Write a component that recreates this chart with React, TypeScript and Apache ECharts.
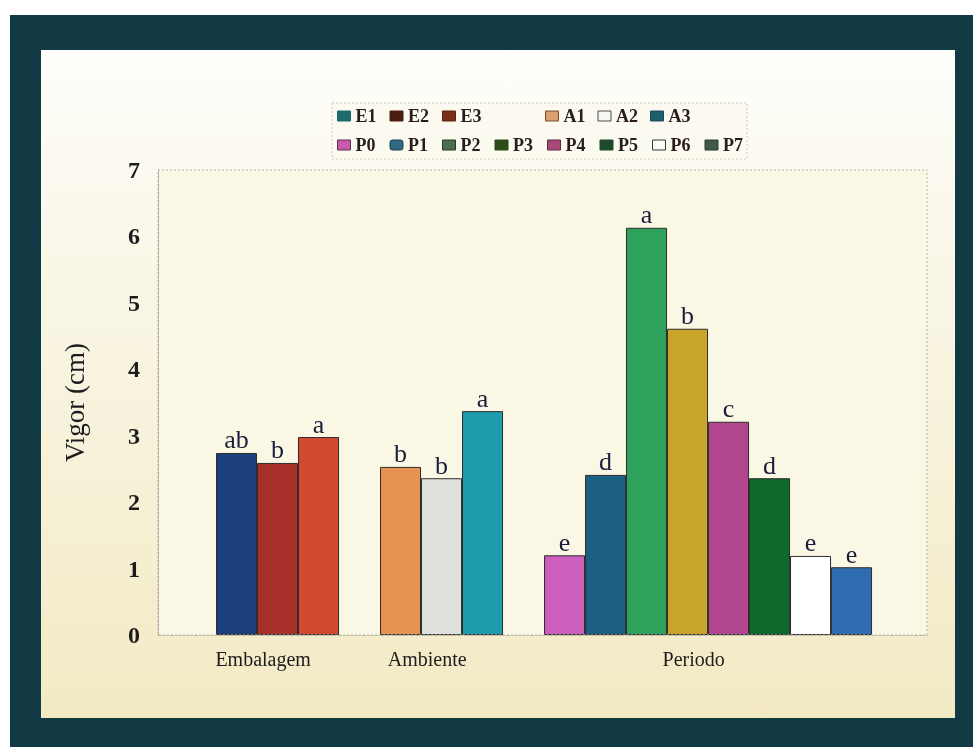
import React, { useEffect, useRef } from "react";
import * as echarts from "echarts";

// Factor groups shown along the x axis
const groupNames = ["Embalagem", "Ambiente", "Periodo"];

// Embalagem (packaging)
const embalagemNames = ["E1", "E2", "E3"];
const embalagemValues = [2.74, 2.59, 2.98];
const embalagemLetters = ["ab", "b", "a"];

// Ambiente (environment)
const ambienteNames = ["A1", "A2", "A3"];
const ambienteValues = [2.53, 2.36, 3.37];
const ambienteLetters = ["b", "b", "a"];

// Periodo (storage period)
const periodoNames = ["P0", "P1", "P2", "P3", "P4", "P5", "P6", "P7"];
const periodoValues = [1.2, 2.41, 6.13, 4.61, 3.21, 2.36, 1.19, 1.02];
const periodoLetters = ["e", "d", "a", "b", "c", "d", "e", "e"];

// Y axis
const yMin = 0;
const yMax = 7;
const yStep = 1;

// Fill colours of the bars
const barColors: Record<string, string> = {
  E1: "#1c3f7d",
  E2: "#a8302a",
  E3: "#d24a30",
  A1: "#e8924f",
  A2: "#e0e0dc",
  A3: "#1f9bae",
  P0: "#cc5fbe",
  P1: "#1b5f82",
  P2: "#2ea25c",
  P3: "#c9a52c",
  P4: "#b2468e",
  P5: "#10692c",
  P6: "#ffffff",
  P7: "#2f6cb2",
};

// Swatches used in the legend
const legendSwatches: Record<string, { color: string; border: string; icon?: string }> = {
  E1: { color: "#1e6b6d", border: "#1e6b6d" },
  E2: { color: "#4b1c12", border: "#4b1c12" },
  E3: { color: "#7a2f17", border: "#5a2010" },
  A1: { color: "#dba070", border: "#7a4a2a" },
  A2: { color: "#f6f6f2", border: "#4a4a4a" },
  A3: { color: "#1d5e6a", border: "#1d4a55" },
  P0: { color: "#c95aaa", border: "#5a3050" },
  P1: { color: "#2e6a82", border: "#1d3a4a", icon: "roundRect" },
  P2: { color: "#4e6c4e", border: "#2a3a2a" },
  P3: { color: "#2d4a18", border: "#2d4a18" },
  P4: { color: "#a8487a", border: "#5a2a45" },
  P5: { color: "#1e4a2c", border: "#1e4a2c" },
  P6: { color: "#fbfbf8", border: "#3a3a3a" },
  P7: { color: "#405a48", border: "#2a3a30" },
};

const SERIF = '"Liberation Serif", "Times New Roman", serif';

export default function App() {
  const ref = useRef<HTMLDivElement>(null);

  useEffect(() => {
    if (!ref.current) return;
    const chart = echarts.init(ref.current, null, { renderer: "svg" });

    const groups = [
      { names: embalagemNames, values: embalagemValues, letters: embalagemLetters },
      { names: ambienteNames, values: ambienteValues, letters: ambienteLetters },
      { names: periodoNames, values: periodoValues, letters: periodoLetters },
    ];

    // plot rectangle
    const gLeft = 158;
    const gTop = 170;
    const gRight = 927;
    const gBottom = 635;
    const W = 973;
    const H = 747;

    // x positions: one slot per bar, one empty slot between groups
    const xMin = -1.915;
    const xMax = 16.84;
    const barWidth = (gRight - gLeft) / (xMax - xMin);

    const series: any[] = [];
    const groupLabelPos: number[] = [];
    let slot = 0;
    groups.forEach((g) => {
      const xs: number[] = [];
      g.names.forEach((name, i) => {
        xs.push(slot);
        const letter = g.letters[i];
        series.push({
          name,
          type: "bar",
          stack: "vigor",
          barWidth,
          data: [[slot, g.values[i]]],
          itemStyle: {
            color: barColors[name],
            borderColor: "#2c2c2c",
            borderWidth: 1,
          },
          label: {
            show: true,
            position: "top",
            distance: 0,
            formatter: () => letter,
            color: "#1a1c3c",
            fontFamily: SERIF,
            fontSize: 26,
          },
        });
        slot += 1;
      });
      groupLabelPos.push(xs.reduce((a, b) => a + b, 0) / xs.length - 0.35);
      slot += 1;
    });

    const legendItem = (name: string) => {
      const s = legendSwatches[name];
      return {
        name,
        icon: s.icon || "rect",
        itemStyle: { color: s.color, borderColor: s.border, borderWidth: 1 },
      };
    };
    const legendBase = {
      orient: "horizontal",
      itemWidth: 13,
      itemHeight: 10,
      itemGap: 4,
      padding: 0,
      selectedMode: false,
      textStyle: {
        fontFamily: SERIF,
        fontWeight: "bold",
        fontSize: 18,
        color: "#2a1c1c",
        width: 30,
        lineHeight: 18,
      },
    };

    const option: any = {
      animation: false,
      graphic: [
        { type: "rect", z: -30, silent: true, shape: { x: 0, y: 0, width: W, height: H }, style: { fill: "#ffffff" } },
        { type: "rect", z: -29, silent: true, shape: { x: 10, y: 15, width: W - 10, height: H - 15 }, style: { fill: "#113a45" } },
        {
          type: "rect",
          z: -28,
          silent: true,
          shape: { x: 41, y: 50, width: 914, height: 668 },
          style: {
            fill: new echarts.graphic.LinearGradient(0, 0, 0, 1, [
              { offset: 0, color: "#fefefb" },
              { offset: 0.35, color: "#f9f6e6" },
              { offset: 1, color: "#f3eac4" },
            ]),
          },
        },
        {
          type: "rect",
          z: 5,
          silent: true,
          shape: { x: gLeft, y: gTop, width: gRight - gLeft, height: gBottom - gTop },
          style: { fill: "none", stroke: "#b8b5a8", lineWidth: 1, lineDash: [2, 2] },
        },
        {
          type: "rect",
          z: -5,
          silent: true,
          shape: { x: 332, y: 103, width: 415, height: 56 },
          style: { fill: "rgba(251,249,238,0.7)", stroke: "#cfcdc2", lineWidth: 1, lineDash: [2, 2] },
        },
      ],
      legend: [
        { ...legendBase, left: 337, top: 107, data: embalagemNames.map(legendItem) },
        { ...legendBase, left: 545, top: 107, data: ambienteNames.map(legendItem) },
        { ...legendBase, left: 337, top: 136, data: periodoNames.map(legendItem) },
      ],
      grid: {
        left: gLeft,
        top: gTop,
        width: gRight - gLeft,
        height: gBottom - gTop,
        show: true,
        backgroundColor: "#faf7e4",
        borderWidth: 0,
      },
      xAxis: {
        type: "value",
        min: xMin,
        max: xMax,
        splitLine: { show: false },
        axisTick: { show: false },
        axisLine: { show: true, onZero: false, lineStyle: { color: "#c2bda6", type: "dashed", width: 1 } },
        axisLabel: {
          customValues: groupLabelPos,
          formatter: (v: number) => {
            const idx = groupLabelPos.findIndex((p) => Math.abs(p - v) < 1e-6);
            return idx >= 0 ? groupNames[idx] : "";
          },
          margin: 14,
          fontFamily: SERIF,
          fontSize: 20,
          color: "#1c1c1c",
        },
      },
      yAxis: {
        type: "value",
        min: yMin,
        max: yMax,
        interval: yStep,
        name: "Vigor (cm)",
        nameLocation: "middle",
        nameGap: 70,
        nameTextStyle: { fontFamily: SERIF, fontSize: 27, color: "#1c1c1c" },
        splitLine: { show: false },
        axisTick: { show: false },
        axisLine: { show: true, onZero: false, lineStyle: { color: "#a8a598", type: "dotted", width: 1 } },
        axisLabel: {
          margin: 18,
          fontFamily: SERIF,
          fontWeight: "bold",
          fontSize: 24,
          color: "#1c1c1c",
        },
      },
      series,
    };

    chart.setOption(option);
    return () => chart.dispose();
  }, []);

  return (
    <div
      ref={ref}
      style={{ position: "fixed", left: 0, top: 0, width: 973, height: 747 }}
    />
  );
}
